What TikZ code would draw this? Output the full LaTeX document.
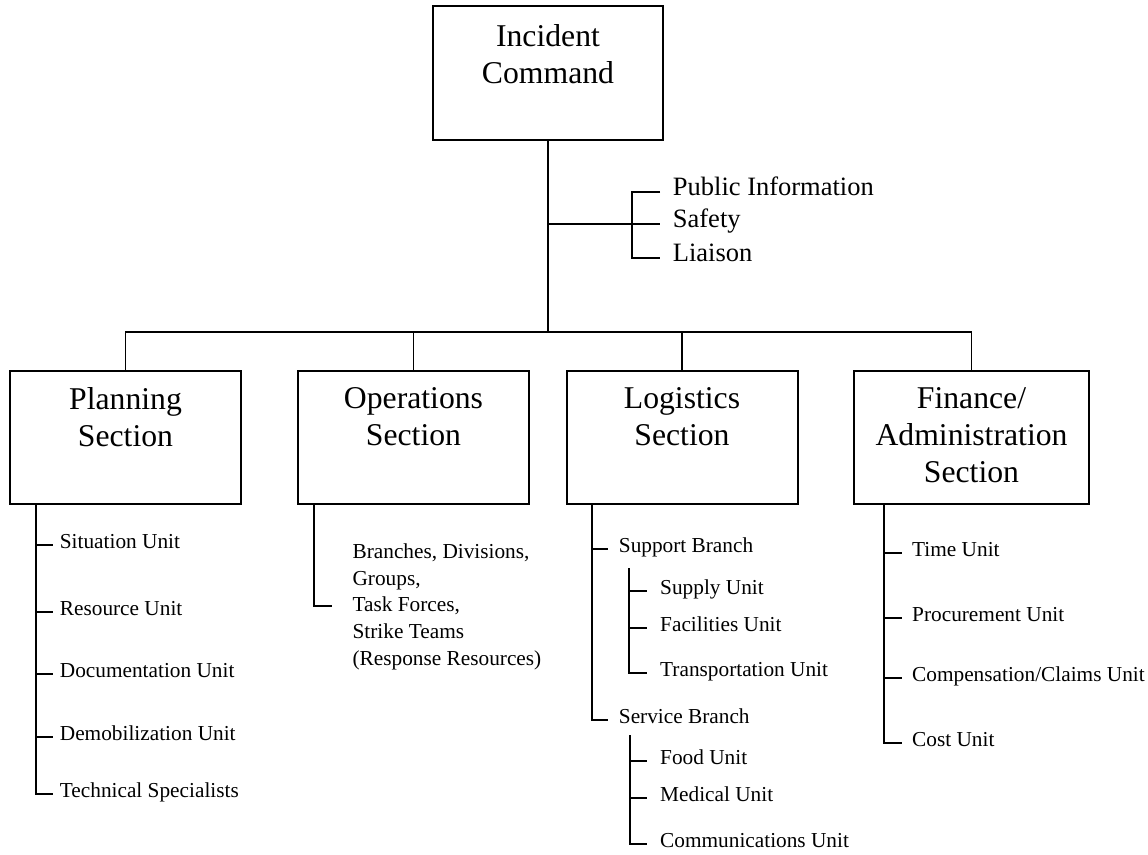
\documentclass[tikz,border=0pt]{standalone}
\usepackage{fontspec}
\setmainfont{Liberation Serif}
\usetikzlibrary{positioning}
\tikzset{
  every picture/.style={x=1pt, y=-1pt, line width=1.8pt},
  box/.style={draw, line width=2pt, minimum width=#1, minimum height=133pt, inner sep=0pt},
  box/.default=231pt,
  head/.style={font=\fontsize{31.7}{37}\selectfont, align=center, inner sep=0pt, anchor=north},
  item/.style={font=\fontsize{21.3}{26}\selectfont, anchor=west, inner xsep=#1, inner ysep=0pt, text height=0.66em, text depth=0pt},
  item/.default=7pt,
  side/.style={font=\fontsize{26.5}{32}\selectfont, anchor=west, inner xsep=12pt, inner ysep=0pt, text height=0.7em, text depth=0pt},
  note/.style={font=\fontsize{21.3}{26.6}\selectfont, align=left, inner sep=0pt, anchor=north west},
}
\begin{document}
\begin{tikzpicture}
  \useasboundingbox (0,0) rectangle (1148,854);
  \node[box=230pt, minimum height=134pt] (ic) at (548,73) {};
  \node[head, below=19pt of ic.north] (icT) {Incident\\Command};
  \foreach \n/\x/\w/\t in {
      plan/125.5/231pt/{Planning\\Section},
      ops/413.5/231pt/{Operations\\Section},
      log/682/231pt/{Logistics\\Section},
      fin/971.5/235pt/{Finance/\\Administration\\Section}} {
    \node[box=\w] (\n) at (\x,437.5) {};
    \node[head, below=17pt of \n.north] (\n T) {\t};
  }
  \coordinate (bus) at (548,332);
  \draw (ic.south) -- (bus);
  \draw (plan.north) |- (bus) -| (fin.north);
  \draw (ops.north) -- (ops.north |- bus);
  \draw (log.north) -- (log.north |- bus);

  \coordinate (br) at (632,224);
  \foreach \n/\y/\t in {pub/192/Public Information, saf/224/Safety, lia/258/Liaison}
    \node[side] (\n) at (660,\y) {\t};
  \draw (ic.south |- br) -- (saf.west);
  \draw (pub.west) -| (br) |- (lia.west);

  \coordinate (pl) at (35.7,504);
  \foreach \n/\y/\t in {
      p1/545/Situation Unit, p2/612/Resource Unit, p3/674/Documentation Unit,
      p4/737/Demobilization Unit, p5/794/Technical Specialists} {
    \node[item=6pt] (\n) at (53,\y) {\t};
    \draw (pl) |- (\n.west);
  }

  \coordinate (ol) at (314,504);
  \coordinate (ot) at (331.7,605.7);
  \node[note] (opsU) at (351.7,543)
    {Branches, Divisions,\\Groups,\\Task Forces,\\Strike Teams\\(Response Resources)};
  \draw (ol) |- (ot);

  \coordinate (ll) at (592.3,504);
  \node[item=10pt] (sup) at (608,549) {Support Branch};
  \node[item=10pt] (ser) at (608,720) {Service Branch};
  \draw (ll) |- (sup.west);
  \draw (ll) |- (ser.west);
  \coordinate (sl) at (629.3,568);
  \coordinate (vl) at (630,735);
  \foreach \n/\s/\y/\t in {
      l1/sl/590.7/Supply Unit, l2/sl/628.3/Facilities Unit, l3/sl/673/Transportation Unit,
      l4/vl/760.7/Food Unit, l5/vl/798.3/Medical Unit, l6/vl/844/Communications Unit} {
    \node[item=12pt] (\n) at (647.3,\y) {\t};
    \draw (\s) |- (\n.west);
  }

  \coordinate (fl) at (884.3,504);
  \foreach \n/\y/\t in {
      f1/552.7/Time Unit, f2/618.3/Procurement Unit,
      f3/678.3/{Compensation/Claims Unit}, f4/743.3/Cost Unit} {
    \node[item=9pt] (\n) at (902.3,\y) {\t};
    \draw (fl) |- (\n.west);
  }
\end{tikzpicture}
\end{document}
